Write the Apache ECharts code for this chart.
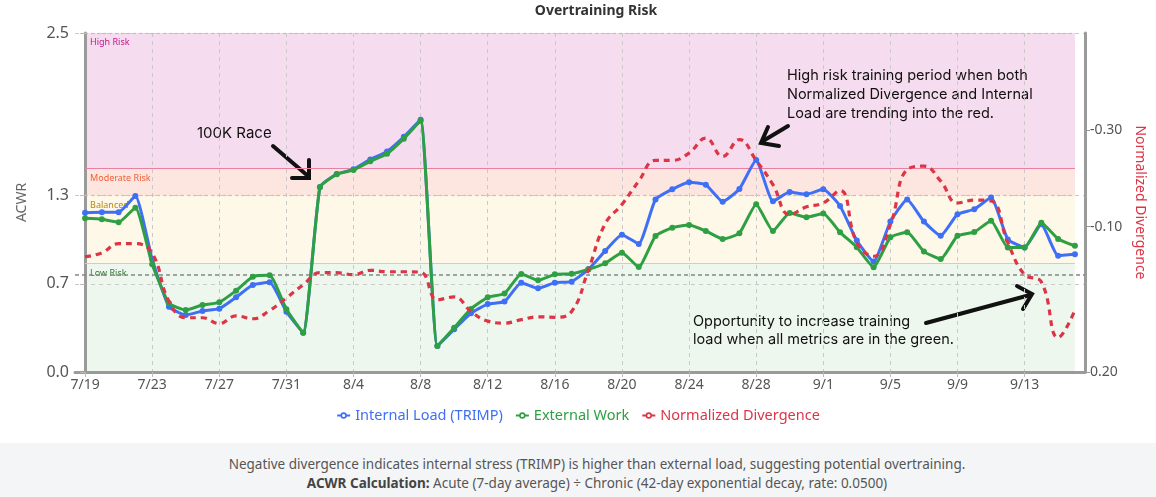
<!DOCTYPE html>
<html><head><meta charset="utf-8">
<script src="https://cdn.jsdelivr.net/npm/echarts@6/dist/echarts.min.js"></script>
<style>
html,body{margin:0;padding:0;background:#fff;}
#chart{width:1156px;height:443px;}
#foot{width:1156px;height:54px;background:#f4f5f7;color:#555;font-family:'Noto Sans',sans-serif;font-size:13.5px;text-align:center;box-sizing:border-box;padding:12px 0 0 38px;line-height:19px;}
#foot b{color:#444;}
</style></head><body>
<div id="chart"></div>
<div id="foot">Negative divergence indicates internal stress (TRIMP) is higher than external load, suggesting potential overtraining.<br><b>ACWR Calculation:</b> Acute (7-day average) ÷ Chronic (42-day exponential decay, rate: 0.0500)</div>
<script>
const dates = ['7/19','7/20','7/21','7/22','7/23','7/24','7/25','7/26','7/27','7/28','7/29','7/30','7/31','8/1','8/2','8/3','8/4','8/5','8/6','8/7','8/8','8/9','8/10','8/11','8/12','8/13','8/14','8/15','8/16','8/17','8/18','8/19','8/20','8/21','8/22','8/23','8/24','8/25','8/26','8/27','8/28','8/29','8/30','8/31','9/1','9/2','9/3','9/4','9/5','9/6','9/7','9/8','9/9','9/10','9/11','9/12','9/13','9/14','9/15','9/16'];

const internalLoad = [1.175,1.178,1.178,1.298,0.831,0.482,0.420,0.450,0.467,0.551,0.642,0.661,0.445,0.290,
  1.365,1.460,1.495,1.568,1.627,1.735,1.860,
  0.192,0.315,0.433,0.501,0.519,0.659,0.617,0.659,0.666,0.757,
  0.893,1.013,0.944,1.273,1.347,1.399,1.381,1.256,1.350,1.563,
  1.259,1.327,1.310,1.347,1.224,0.969,0.814,1.109,1.273,1.109,
  1.005,1.163,1.200,1.286,0.978,0.919,1.089,0.858,0.868];

const externalWork = [1.133,1.126,1.104,1.212,0.794,0.507,0.457,0.494,0.514,0.600,0.703,0.713,0.462,0.290,
  1.362,1.458,1.490,1.554,1.610,1.721,1.853,
  0.192,0.327,0.465,0.551,0.578,0.723,0.676,0.720,0.725,0.757,
  0.802,0.880,0.774,1.003,1.064,1.084,1.040,0.981,1.023,1.237,
  1.040,1.173,1.141,1.168,1.030,0.920,0.772,0.993,1.030,0.888,
  0.833,1.005,1.032,1.116,0.919,0.919,1.101,0.981,0.931];

const divergence = [-0.038,-0.046,-0.065,-0.065,-0.045,0.054,0.088,0.088,0.100,0.084,0.090,0.073,0.047,0.020,
  -0.005,-0.005,-0.001,-0.010,-0.007,-0.007,-0.006,
  0.051,0.045,0.075,0.095,0.099,0.092,0.086,0.087,0.075,-0.011,
  -0.106,-0.146,-0.194,-0.237,-0.237,-0.252,-0.283,-0.245,-0.280,-0.237,
  -0.187,-0.125,-0.141,-0.149,-0.175,-0.067,-0.039,-0.104,-0.218,-0.225,
  -0.194,-0.149,-0.155,-0.153,-0.067,-0.001,0.014,0.129,0.072];

const xTickIndex = [0,4,8,12,16,20,24,28,32,36,40,44,48,52,56];
const acwrTicks = [0,0.65,1.3,2.5];
const divTicks = [-0.3,-0.1,0.2];

const zones = [
  {name:'High Risk', from:1.5, to:2.5},
  {name:'Moderate Risk', from:1.3, to:1.5},
  {name:'Balanced', from:0.8, to:1.3},
  {name:'Low Risk', from:0, to:0.8}
];
const zoneStyle = {
  'High Risk':     {fill:'#f6dcef', text:'#c2188c', edge:'#e8a6cf', edgeType:[3,3]},
  'Moderate Risk': {fill:'#fde5e0', text:'#f0603a', edge:'#ea7fa0', edgeType:'solid'},
  'Balanced':      {fill:'#fef8e9', text:'#b8860b', edge:'#f0b78a', edgeType:[3,3]},
  'Low Risk':      {fill:'#eef7ee', text:'#2e7d32', edge:'#c9da92', edgeType:'solid'}
};

const BLUE = '#3f6ff4', GREEN = '#2ea043', RED = '#dc3545';
const lastIdx = dates.length - 1;
const pairs = arr => arr.map((v, i) => [i, v]);
const legendItem = (name, color) => ({
  name, textStyle: {color},
  itemStyle: {color: '#fff', borderColor: color, borderWidth: 1.6},
  lineStyle: {color, width: 2, type: 'solid'}
});

const chart = echarts.init(document.getElementById('chart'));
const option = {
  animation: false,
  textStyle: {fontFamily: "'Noto Sans', sans-serif"},
  grid: {left: 75, right: 71, top: 33, bottom: 71},
  legend: {
    top: 403, left: 'center', itemWidth: 13, itemHeight: 6, itemGap: 12,
    textStyle: {fontSize: 14.5},
    data: [
      legendItem('Internal Load (TRIMP)', BLUE),
      legendItem('External Work', GREEN),
      legendItem('Normalized Divergence', RED)
    ]
  },
  xAxis: {
    type: 'value', min: -0.6, max: lastIdx + 0.6,
    axisLine: {show: true, onZero: false, lineStyle: {color: '#9a9a9a', width: 3}},
    axisTick: {show: true, customValues: xTickIndex, length: 5, lineStyle: {color: '#bbb'}},
    axisLabel: {customValues: xTickIndex, formatter: v => dates[Math.round(v)], color: '#555', fontSize: 14, margin: 6},
    splitLine: {show: true, lineStyle: {color: '#c9c9c9', type: [4, 4], width: 1}}
  },
  yAxis: [
    {
      type: 'value', min: 0, max: 2.5,
      name: 'ACWR', nameLocation: 'middle', nameGap: 46, nameRotate: 90,
      nameTextStyle: {color: '#666', fontSize: 14},
      axisLine: {show: true, lineStyle: {color: '#9a9a9a', width: 3}},
      axisTick: {show: true, customValues: acwrTicks, length: 5, lineStyle: {color: '#bbb'}},
      axisLabel: {customValues: acwrTicks, formatter: v => v.toFixed(1), color: '#555', fontSize: 16, margin: 6},
      splitLine: {show: true, lineStyle: {color: '#c9c9c9', type: [4, 4], width: 1}}
    },
    {
      type: 'value', min: -0.5, max: 0.2, inverse: true, position: 'right',
      name: 'Normalized Divergence', nameLocation: 'middle', nameGap: 44, nameRotate: -90,
      nameTextStyle: {color: RED, fontSize: 14},
      axisLine: {show: true, lineStyle: {color: '#9a9a9a', width: 3}},
      axisTick: {show: true, customValues: divTicks, length: 5, lineStyle: {color: '#999'}},
      axisLabel: {customValues: divTicks, formatter: v => v.toFixed(2), color: '#555', fontSize: 14, margin: 5},
      splitLine: {show: false}
    }
  ],
  series: [
    {
      name: 'Internal Load (TRIMP)', type: 'line', data: pairs(internalLoad),
      smooth: 0.15, symbol: 'circle', symbolSize: 6, z: 3,
      lineStyle: {width: 3, color: BLUE}, itemStyle: {color: BLUE},
      markArea: {
        z: -1, silent: true,
        label: {show: true, position: 'insideTopLeft', fontSize: 9, distance: 5},
        data: zones.map(zn => [
          {xAxis: 0, yAxis: zn.to, name: zn.name,
           itemStyle: {color: zoneStyle[zn.name].fill},
           label: {color: zoneStyle[zn.name].text}},
          {xAxis: lastIdx, yAxis: zn.from}
        ])
      }
    },
    {
      name: 'External Work', type: 'line', data: pairs(externalWork),
      smooth: 0.15, symbol: 'circle', symbolSize: 6, z: 4,
      lineStyle: {width: 3, color: GREEN}, itemStyle: {color: GREEN},
      markLine: {
        z: 1, silent: true, symbol: 'none', label: {show: false},
        data: zones.map(zn => [
          {xAxis: 0, yAxis: zn.to, lineStyle: {color: zoneStyle[zn.name].edge, type: zoneStyle[zn.name].edgeType, width: 1.2}},
          {xAxis: lastIdx, yAxis: zn.to}
        ])
      }
    },
    {
      name: 'Normalized Divergence', type: 'line', yAxisIndex: 1, data: pairs(divergence),
      smooth: 0.45, symbol: 'circle', symbolSize: 6, showSymbol: false, z: 5,
      lineStyle: {width: 3.2, color: RED, type: [6, 5]}, itemStyle: {color: RED},
      markLine: {
        z: 1, silent: true, symbol: 'none', label: {show: false},
        lineStyle: {color: '#888', type: [4, 3], width: 1.5},
        data: [{yAxis: 0}]
      }
    }
  ],
  graphic: [
    {type: 'text', x: 596, y: 4, style: {text: 'Overtraining Risk', font: "bold 14px 'Noto Sans', sans-serif", fill: '#333', align: 'center'}},
    {type: 'text', x: 197, y: 126, style: {text: '100K Race', font: "15px Inter, sans-serif", fill: '#111'}},
    {type: 'text', x: 787, y: 66, style: {text: 'High risk training period when both\nNormalized Divergence and Internal\nLoad are trending into the red.', font: "14.5px Inter, sans-serif", fill: '#111', lineHeight: 19}},
    {type: 'text', x: 693, y: 312, style: {text: 'Opportunity to increase training\nload when all metrics are in the green.', font: "14.5px Inter, sans-serif", fill: '#111', lineHeight: 18.5}},
    {type: 'polyline', shape: {points: [[273,146],[308,176]]}, style: {stroke: '#111', lineWidth: 4, fill: null, lineCap: 'round'}},
    {type: 'polyline', shape: {points: [[309,160],[309,178],[292,178]]}, style: {stroke: '#111', lineWidth: 4, fill: null, lineCap: 'round', lineJoin: 'miter'}},
    {type: 'polyline', shape: {points: [[788,126],[763,141]]}, style: {stroke: '#111', lineWidth: 4, fill: null, lineCap: 'round'}},
    {type: 'polyline', shape: {points: [[768,127],[761,143],[779,146]]}, style: {stroke: '#111', lineWidth: 4, fill: null, lineCap: 'round', lineJoin: 'miter'}},
    {type: 'polyline', shape: {points: [[926,323],[1030,295]]}, style: {stroke: '#111', lineWidth: 4, fill: null, lineCap: 'round'}},
    {type: 'polyline', shape: {points: [[1017,286],[1032,294],[1023,309]]}, style: {stroke: '#111', lineWidth: 4, fill: null, lineCap: 'round', lineJoin: 'miter'}}
  ]
};
chart.setOption(option);
</script>
</body></html>
